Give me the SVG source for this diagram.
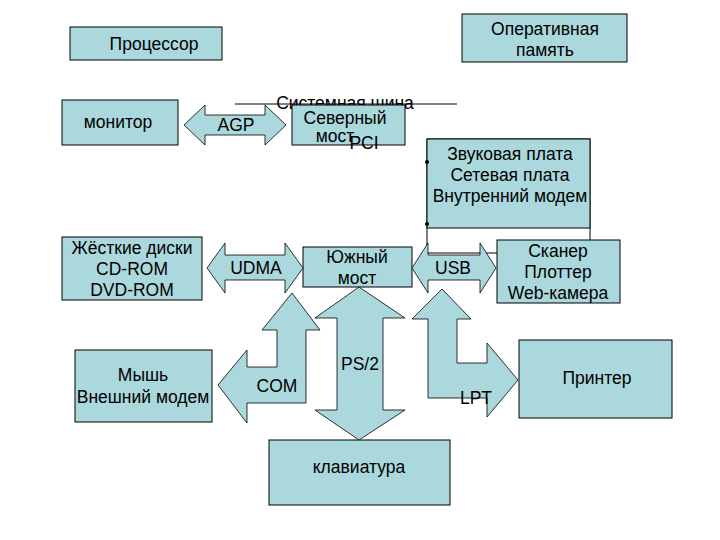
<svg xmlns="http://www.w3.org/2000/svg" width="720" height="540" viewBox="0 0 720 540">
<style>
rect.n{fill:#abd8dc;stroke:#000;stroke-width:1}
.a{fill:#abd8dc;stroke:#000;stroke-width:0.8}
text{font-family:"Liberation Sans",Arial,sans-serif;font-size:17.5px;fill:#000;text-anchor:middle}
</style>
<rect width="720" height="540" fill="#fff"/>
<g id="bus">
<line x1="235" y1="104" x2="457" y2="104" stroke="#000"/>
<text x="345" y="109">Системная шина</text>
</g>
<g id="cpu"><rect class="n" x="70" y="27" width="152" height="33"/><text x="154" y="50">Процессор</text></g>
<g id="ram"><rect class="n" x="462" y="14" width="165" height="48"/><text x="545" y="35">Оперативная</text><text x="545" y="56">память</text></g>
<g id="monitor"><rect class="n" x="62" y="100" width="116" height="45"/><text x="118" y="128">монитор</text></g>
<g id="north"><rect class="n" x="292" y="105" width="113" height="40"/><text x="345" y="124">Северный</text><text x="335" y="142">мост</text></g>
<g id="cards">
<rect x="427" y="139" width="163" height="114" fill="#fff" stroke="#000"/>
<rect class="n" x="427" y="139" width="163" height="89"/>
<circle cx="427" cy="162" r="2"/><circle cx="427" cy="224" r="2"/>
<text x="510" y="160">Звуковая плата</text><text x="510" y="181">Сетевая плата</text><text x="510" y="202">Внутренний модем</text>
</g>
<g id="hdd"><rect class="n" x="62" y="237" width="140" height="63"/><text x="132" y="254">Жёсткие диски</text><text x="132" y="275">CD-ROM</text><text x="132" y="296">DVD-ROM</text></g>
<g id="south"><rect class="n" x="303" y="247" width="109" height="40"/><text x="357" y="263">Южный</text><text x="357" y="284">мост</text></g>
<g id="scanner"><rect class="n" x="497" y="240" width="123" height="63"/><text x="558" y="257">Сканер</text><text x="558" y="278">Плоттер</text><text x="558" y="299">Web-камера</text></g>
<g id="mouse"><rect class="n" x="75" y="350" width="137" height="72"/><text x="143" y="381">Мышь</text><text x="143" y="403">Внешний модем</text></g>
<g id="printer"><rect class="n" x="519" y="340" width="153" height="78"/><text x="597" y="384">Принтер</text></g>
<g id="keyboard"><rect class="n" x="269" y="440" width="181" height="65"/><text x="359" y="473">клавиатура</text></g>
<g id="connectors">
<path class="a" d="M184,125 L205,105 L205,115 L265,115 L265,105 L286,125 L265,145 L265,135 L205,135 L205,145 Z"/>
<text x="236" y="131">AGP</text>
<text x="364" y="149">PCI</text>
<path class="a" d="M207,268 L225,243 L225,255 L285,255 L285,243 L303,268 L285,293 L285,280 L225,280 L225,293 Z"/>
<text x="256" y="274">UDMA</text>
<path class="a" d="M412,268 L428,243 L428,255 L480,255 L480,243 L496,268 L480,293 L480,280 L428,280 L428,293 Z"/>
<text x="453" y="274">USB</text>
<path class="a" d="M359,287 L405,318 L383,318 L383,410 L405,410 L359,440 L315,410 L337,410 L337,318 L315,318 Z"/>
<text x="360" y="370">PS/2</text>
<path class="a" d="M292,293 L320,330 L306,330 L306,403 L247,403 L247,423 L218,385 L247,350 L247,367 L277,367 L277,330 L262,330 Z"/>
<text x="277" y="392">COM</text>
<path class="a" d="M442,289 L471,319 L457,319 L457,363 L487,363 L487,343 L518,380 L487,417 L487,398 L428,398 L428,319 L412,319 Z"/>
<text x="476" y="404">LPT</text>
</g>
</svg>
